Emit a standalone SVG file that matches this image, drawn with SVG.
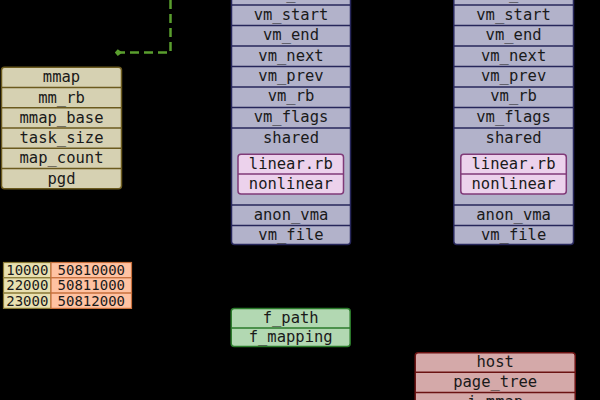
<svg xmlns="http://www.w3.org/2000/svg" width="600" height="400" viewBox="0 0 600 400">
<defs>
<style>
text{font-family:"DejaVu Sans Mono","Liberation Mono",monospace;font-size:15.5px;fill:#1a1a1a;text-anchor:middle}
.mm{fill:#d6d1b2;stroke:#6b5a1e;stroke-width:1.5}
.mml{stroke:#6b5a1e;stroke-width:1.5}
.vma{fill:#b2b2ca;stroke:#26265a;stroke-width:1.5}
.vmal{stroke:#26265a;stroke-width:1.5}
.pk{fill:#ecd2ec;stroke:#803a78;stroke-width:1.5}
.pkl{stroke:#803a78;stroke-width:1.5}
.tl{fill:#e8e0b0;stroke:#8a7a36;stroke-width:1.2}
.tr{fill:#ffc2a2;stroke:#c8703c;stroke-width:1.2}
.t{font-size:14px}
.fp{fill:#b2d8b2;stroke:#2a7a2a;stroke-width:1.5}
.fpl{stroke:#2a7a2a;stroke-width:1.5}
.ho{fill:#d4a9a9;stroke:#6a1212;stroke-width:1.5}
.hol{stroke:#6a1212;stroke-width:1.5}
.conn{fill:none;stroke:#5a9e2e;stroke-width:2.5;stroke-dasharray:9,5}
</style>
<marker id="ah" viewBox="0 0 10 10" refX="3" refY="5" markerWidth="3" markerHeight="3" orient="auto-start-reverse" markerUnits="strokeWidth">
<path d="M0,5 L6,0.5 L10,5 L6,9.5 Z" fill="#5a9e2e"/>
</marker>
</defs>
<rect x="0" y="0" width="600" height="400" fill="#000"/>

<g id="connectors">
<path class="conn" d="M170.5,0 V52.5 H120" marker-end="url(#ah)"/>
</g>

<g id="mm_struct">
<rect class="mm" x="1.5" y="67.3" width="120" height="121.5" rx="3"/>
<line class="mml" x1="1.5" y1="87.5" x2="121.5" y2="87.5"/>
<line class="mml" x1="1.5" y1="107.8" x2="121.5" y2="107.8"/>
<line class="mml" x1="1.5" y1="128" x2="121.5" y2="128"/>
<line class="mml" x1="1.5" y1="148.3" x2="121.5" y2="148.3"/>
<line class="mml" x1="1.5" y1="168.5" x2="121.5" y2="168.5"/>
<text x="61.5" y="82.3">mmap</text>
<text x="61.5" y="102.5">mm_rb</text>
<text x="61.5" y="122.7">mmap_base</text>
<text x="61.5" y="143">task_size</text>
<text x="61.5" y="163.2">map_count</text>
<text x="61.5" y="183.5">pgd</text>
</g>

<g id="vma1">
<rect class="vma" x="231.5" y="-15.4" width="119" height="260" rx="3"/>
<line class="vmal" x1="231.5" y1="5" x2="350.5" y2="5"/>
<line class="vmal" x1="231.5" y1="25.5" x2="350.5" y2="25.5"/>
<line class="vmal" x1="231.5" y1="46" x2="350.5" y2="46"/>
<line class="vmal" x1="231.5" y1="66.5" x2="350.5" y2="66.5"/>
<line class="vmal" x1="231.5" y1="87" x2="350.5" y2="87"/>
<line class="vmal" x1="231.5" y1="107.5" x2="350.5" y2="107.5"/>
<line class="vmal" x1="231.5" y1="128" x2="350.5" y2="128"/>
<line class="vmal" x1="231.5" y1="205" x2="350.5" y2="205"/>
<line class="vmal" x1="231.5" y1="225.5" x2="350.5" y2="225.5"/>
<text x="291" y="-0.9">vm_mm</text>
<text x="291" y="19.7">vm_start</text>
<text x="291" y="40.1">vm_end</text>
<text x="291" y="60.5">vm_next</text>
<text x="291" y="80.9">vm_prev</text>
<text x="291" y="101.3">vm_rb</text>
<text x="291" y="121.7">vm_flags</text>
<text x="291" y="143">shared</text>
<g id="vma1_shared">
<rect class="pk" x="238" y="154.3" width="105.5" height="39.7" rx="3"/>
<line class="pkl" x1="238" y1="174" x2="343.5" y2="174"/>
<text x="290.8" y="168.8">linear.rb</text>
<text x="290.8" y="188.6">nonlinear</text>
</g>
<text x="291" y="219.7">anon_vma</text>
<text x="291" y="239.7">vm_file</text>
</g>

<g id="vma2">
<rect class="vma" x="453.8" y="-15.4" width="119.7" height="260" rx="3"/>
<line class="vmal" x1="453.8" y1="5" x2="573.5" y2="5"/>
<line class="vmal" x1="453.8" y1="25.5" x2="573.5" y2="25.5"/>
<line class="vmal" x1="453.8" y1="46" x2="573.5" y2="46"/>
<line class="vmal" x1="453.8" y1="66.5" x2="573.5" y2="66.5"/>
<line class="vmal" x1="453.8" y1="87" x2="573.5" y2="87"/>
<line class="vmal" x1="453.8" y1="107.5" x2="573.5" y2="107.5"/>
<line class="vmal" x1="453.8" y1="128" x2="573.5" y2="128"/>
<line class="vmal" x1="453.8" y1="205" x2="573.5" y2="205"/>
<line class="vmal" x1="453.8" y1="225.5" x2="573.5" y2="225.5"/>
<text x="513.6" y="-0.9">vm_mm</text>
<text x="513.6" y="19.7">vm_start</text>
<text x="513.6" y="40.1">vm_end</text>
<text x="513.6" y="60.5">vm_next</text>
<text x="513.6" y="80.9">vm_prev</text>
<text x="513.6" y="101.3">vm_rb</text>
<text x="513.6" y="121.7">vm_flags</text>
<text x="513.6" y="143">shared</text>
<g id="vma2_shared">
<rect class="pk" x="460.8" y="154.3" width="105.5" height="39.7" rx="3"/>
<line class="pkl" x1="460.8" y1="174" x2="566.3" y2="174"/>
<text x="513.5" y="168.8">linear.rb</text>
<text x="513.5" y="188.6">nonlinear</text>
</g>
<text x="513.6" y="219.7">anon_vma</text>
<text x="513.6" y="239.7">vm_file</text>
</g>

<g id="table">
<rect class="tl" x="3.5" y="262.5" width="47.5" height="15.3"/>
<rect class="tl" x="3.5" y="277.8" width="47.5" height="15.3"/>
<rect class="tl" x="3.5" y="293.1" width="47.5" height="15.3"/>
<rect class="tr" x="51" y="262.5" width="80.5" height="15.3"/>
<rect class="tr" x="51" y="277.8" width="80.5" height="15.3"/>
<rect class="tr" x="51" y="293.1" width="80.5" height="15.3"/>
<text class="t" x="27.3" y="275">10000</text>
<text class="t" x="27.3" y="290.3">22000</text>
<text class="t" x="27.3" y="305.6">23000</text>
<text class="t" x="91.3" y="275">50810000</text>
<text class="t" x="91.3" y="290.3">50811000</text>
<text class="t" x="91.3" y="305.6">50812000</text>
</g>

<g id="file">
<rect class="fp" x="231.2" y="308.5" width="119" height="38" rx="3"/>
<line class="fpl" x1="231.2" y1="328" x2="350.2" y2="328"/>
<text x="290.7" y="322.8">f_path</text>
<text x="290.7" y="341.8">f_mapping</text>
</g>

<g id="address_space">
<rect class="ho" x="415.2" y="352.7" width="160" height="70" rx="3"/>
<line class="hol" x1="415.2" y1="372.3" x2="575.2" y2="372.3"/>
<line class="hol" x1="415.2" y1="392.4" x2="575.2" y2="392.4"/>
<text x="495.2" y="367">host</text>
<text x="495.2" y="387.1">page_tree</text>
<text x="495.2" y="407.2">i_mmap</text>
</g>
</svg>
